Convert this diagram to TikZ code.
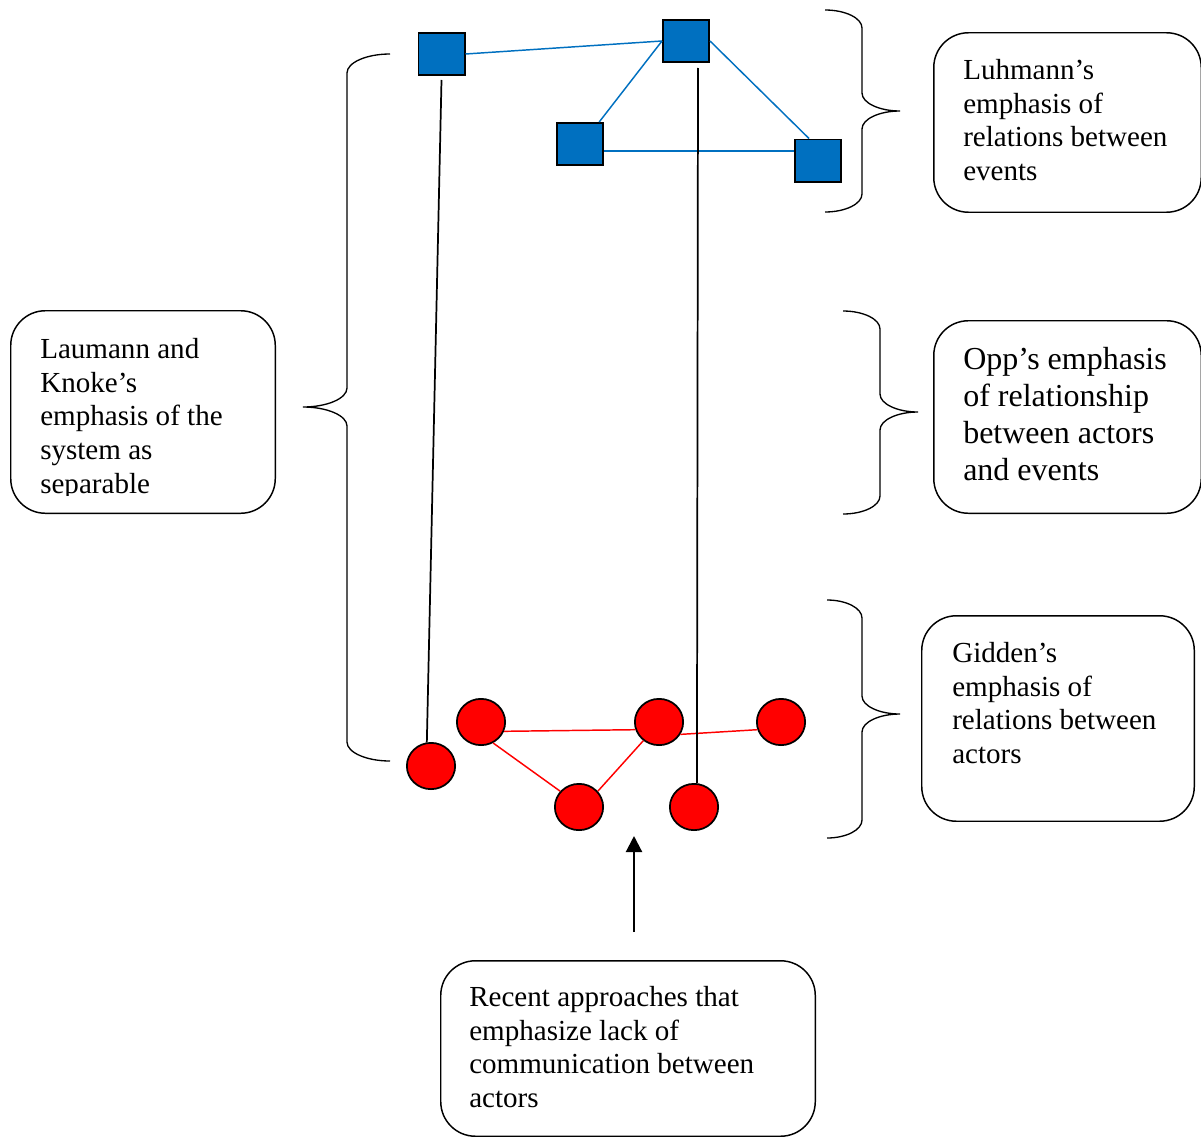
\documentclass[tikz,border=0pt]{standalone}
\usepackage{fontspec}
\setmainfont{Liberation Serif}
\usetikzlibrary{calc,arrows.meta,shapes.geometric}

\definecolor{eventblue}{HTML}{0070C0}
\definecolor{actorred}{HTML}{FF0000}

% curly brace: end x, spine x, tip x, top y, middle y, bottom y, bend radius
\newcommand\sidebrace[7]{%
  \draw[bracepath] (#1,#4)
    .. controls ({#1+0.55*(#2-#1)},#4) and (#2,{#4+0.45*#7}) .. (#2,{#4+#7})
    -- (#2,{#5-#7})
    .. controls (#2,{#5-0.45*#7}) and ({#2+0.45*(#3-#2)},#5) .. (#3,#5)
    .. controls ({#2+0.45*(#3-#2)},#5) and (#2,{#5+0.45*#7}) .. (#2,{#5+#7})
    -- (#2,{#6-#7})
    .. controls (#2,{#6-0.45*#7}) and ({#1+0.55*(#2-#1)},#6) .. (#1,#6);}

\tikzset{
  event/.style={rectangle, draw=black, line width=1.3pt, fill=eventblue,
    minimum width=34.7pt, minimum height=31.7pt, inner sep=0pt},
  actor/.style={ellipse, draw=black, line width=1.3pt, fill=actorred,
    minimum width=36.2pt, minimum height=34.7pt, inner sep=0pt},
  eventlink/.style={draw=eventblue, line width=1.1pt},
  actorlink/.style={draw=actorred, line width=1.1pt},
  stem/.style={draw=black, line width=1.3pt},
  bracepath/.style={draw=black, line width=1pt},
  note/.style={rectangle, draw=black, line width=1.1pt, rounded corners=26pt, inner sep=0pt},
  notetext/.style={anchor=north west, inner sep=0pt, align=left,
    font=\fontsize{21.8}{25.3}\selectfont},
  pointer/.style={draw=black, line width=1.6pt, -{Triangle[length=12pt,width=12pt]}}
}

\begin{document}
\begin{tikzpicture}[x=0.75pt,y=-0.75pt]
\useasboundingbox (0,0) rectangle (1201,1138);

% events
\node[event] (S1) at (441.5,54) {};
\node[event] (S2) at (686,41) {};
\node[event] (S3) at (580,144) {};
\node[event] (S4) at (818,160.5) {};

% actors
\node[actor] (C1) at (431,766) {};
\node[actor] (C2) at (481,722) {};
\node[actor] (C3) at (659,722) {};
\node[actor] (C4) at (781,722) {};
\node[actor] (C5) at (579,807) {};
\node[actor] (C6) at (694,807) {};

% relations between events
\draw[eventlink] (S1.east) -- (S2.west);
\draw[eventlink] (S2.west) -- ($(S3.north)!0.8!(S3.north east)$);
\draw[eventlink] (S2.east) -- ($(S4.north)+(-9,0)$);
\draw[eventlink] ($(S3.east)+(0,7)$) coordinate (h1) -- (h1 -| S4.west);

% relations between actors
\draw[actorlink] (C2.-22) -- (C3.198);
\draw[actorlink] (C2.-60) -- (C5.140);
\draw[actorlink] (C5.40) -- (C3.-130);
\draw[actorlink] (C3.-30) -- (C4.198);

% actor-event ties
\draw[stem] ([yshift=-3pt]S1.south) -- (C1.100);
\draw[stem] ($(S2.south)+(12,5)$) -- (C6.83);

% braces
\sidebrace{825}{862}{900}{10}{111}{212}{18}
\sidebrace{843}{880}{918}{311}{412}{514}{18}
\sidebrace{827}{862}{900}{600}{714}{838}{18}
\sidebrace{390}{347}{303}{54}{407}{761}{19}

% notes
\node[note, minimum width=200.6pt, minimum height=134.6pt] (luhbox) at (1067.5,122.5) {};
\node[notetext] (luhtext) at (963,59) {Luhmann’s\\emphasis of\\relations between\\events};

\node[note, minimum width=198.4pt, minimum height=151.9pt] (laubox) at (143,412) {};
\begin{scope}
  \clip (10,310) rectangle (276,495);
  \node[notetext] (lautext) at (40,338) {Laumann and\\Knoke’s\\emphasis of the\\system as\\separable};
\end{scope}

\node[note, minimum width=200.6pt, minimum height=144.4pt] (oppbox) at (1067.5,417) {};
\node[notetext, font=\fontsize{24}{27.75}\selectfont] (opptext) at (963,347)
  {Opp’s emphasis\\of relationship\\between actors\\and events};

\node[note, minimum width=204.4pt, minimum height=154.1pt] (gidbox) at (1058,718.5) {};
\node[notetext] (gidtext) at (952,642) {Gidden’s\\emphasis of\\relations between\\actors};

\node[note, minimum width=280.9pt, minimum height=131.6pt] (recbox) at (628,1048.5) {};
\node[notetext] (rectext) at (469,986) {Recent approaches that\\emphasize lack of\\communication between\\actors};

% pointer to the gap between actors
\coordinate (gap) at (634,836);
\draw[pointer] ($(recbox.north)+(6,-28)$) -- (gap);
\end{tikzpicture}
\end{document}
